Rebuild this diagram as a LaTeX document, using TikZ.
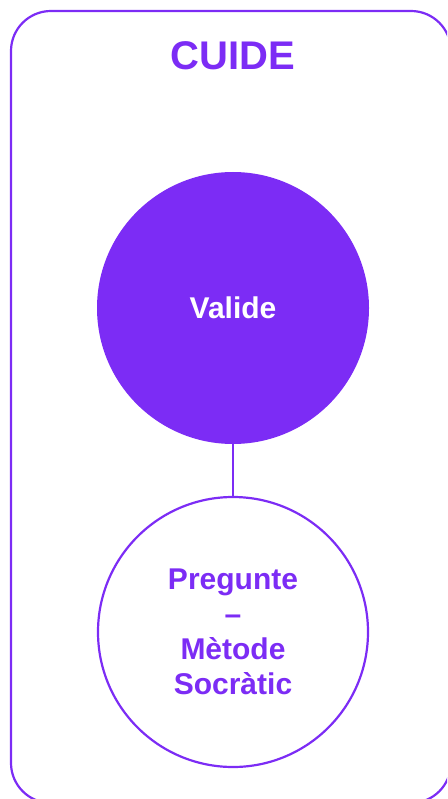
\documentclass[tikz,border=0pt]{standalone}
\usepackage{fontspec}
\setmainfont{Liberation Sans}
\usetikzlibrary{positioning}

\definecolor{violet}{RGB}{124,44,245}

\tikzset{
  title/.style={text=violet, font=\bfseries\fontsize{40}{40}\selectfont},
  fullcircle/.style={circle, fill=violet, minimum size=272pt, inner sep=0pt,
                     text=white, font=\bfseries\fontsize{30}{34}\selectfont},
  emptycircle/.style={circle, draw=violet, line width=2.2pt, fill=white,
                      minimum size=270pt, inner sep=0pt, align=center,
                      text=violet, font=\bfseries\fontsize{30}{35}\selectfont},
  link/.style={violet, line width=2.2pt}
}

\begin{document}
\begin{tikzpicture}[x=1pt,y=-1pt]
  % Define dimensions
  \def\W{447}
  \def\H{799}
  \def\R{40}
  \useasboundingbox (0,0) rectangle (\W,\H);
  \clip (0,0) rectangle (\W,\H);

  % Draw frame
  \draw[violet, line width=2.2pt, rounded corners=\R pt] (11,11) rectangle (451,803);

  % Title
  \node[title] (cuide) at (233,56) {CUIDE};

  % Circles
  \node[fullcircle] (valide) at (233,308) {Valide};
  \node[emptycircle] (pregunte) at (233,632) {Pregunte\\--\\Mètode\\Socràtic};

  % Connector
  \draw[link] (valide) -- (pregunte);
\end{tikzpicture}
\end{document}
